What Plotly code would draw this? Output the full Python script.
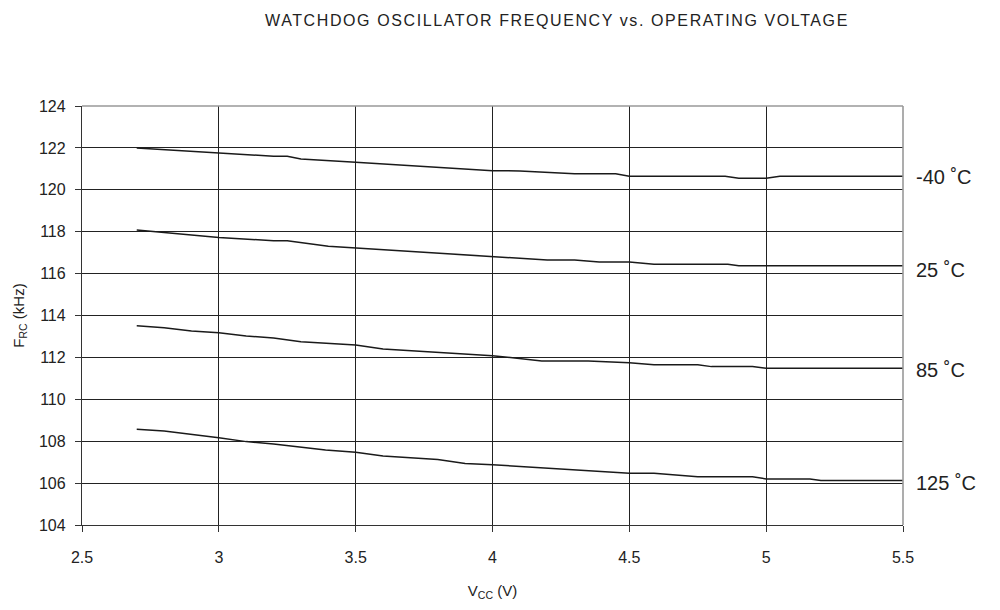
import plotly.graph_objects as go

# Data
x_m40 = [2.7, 3.0, 3.2, 3.25, 3.3, 3.5, 4.0, 4.1, 4.3, 4.45, 4.5, 4.85, 4.9, 5.0, 5.05, 5.5]
y_m40 = [122.0, 121.75, 121.6, 121.6, 121.47, 121.32, 120.91, 120.9, 120.77, 120.77, 120.65, 120.65, 120.55, 120.55, 120.65, 120.65]

x_25 = [2.7, 3.0, 3.2, 3.25, 3.4, 3.5, 4.0, 4.2, 4.3, 4.39, 4.5, 4.59, 4.86, 4.9, 5.5]
y_25 = [118.08, 117.72, 117.57, 117.57, 117.3, 117.22, 116.8, 116.65, 116.65, 116.55, 116.55, 116.45, 116.45, 116.37, 116.37]

x_85 = [2.7, 2.8, 2.9, 3.0, 3.1, 3.2, 3.3, 3.5, 3.6, 3.8, 4.0, 4.18, 4.35, 4.5, 4.59, 4.75, 4.8, 4.95, 5.0, 5.5]
y_85 = [113.51, 113.42, 113.26, 113.18, 113.02, 112.93, 112.75, 112.59, 112.4, 112.24, 112.08, 111.83, 111.83, 111.75, 111.65, 111.65, 111.56, 111.56, 111.48, 111.48]

x_125 = [2.7, 2.8, 3.0, 3.1, 3.2, 3.39, 3.5, 3.6, 3.8, 3.9, 4.0, 4.5, 4.59, 4.75, 4.95, 5.0, 5.16, 5.2, 5.5]
y_125 = [108.57, 108.49, 108.17, 107.98, 107.87, 107.58, 107.47, 107.29, 107.13, 106.94, 106.88, 106.47, 106.47, 106.3, 106.3, 106.2, 106.2, 106.12, 106.12]

labels = ["-40 ˚C", "25 ˚C", "85 ˚C", "125 ˚C"]
label_y = [120.6, 116.17, 111.4, 106.0]

x_ticks = [2.5, 3, 3.5, 4, 4.5, 5, 5.5]
x_tick_text = ["2.5", "3", "3.5", "4", "4.5", "5", "5.5"]
y_ticks = list(range(104, 125, 2))

series = [(x_m40, y_m40), (x_25, y_25), (x_85, y_85), (x_125, y_125)]

FONT = "Liberation Sans, Arial, sans-serif"
INK = "#222"

fig = go.Figure()
for (xs, ys), name in zip(series, labels):
    fig.add_trace(go.Scatter(x=xs, y=ys, mode="lines", name=name,
                             line=dict(color="#1a1a1a", width=1.5), showlegend=False))

for txt, yv in zip(labels, label_y):
    fig.add_annotation(x=1, xref="paper", y=yv, yref="y", text=txt, showarrow=False,
                       xanchor="left", yanchor="middle", xshift=11,
                       font=dict(family=FONT, size=20, color=INK))

fig.update_layout(
    width=1000, height=610,
    margin=dict(l=74, r=105, t=98, b=93),
    paper_bgcolor="white", plot_bgcolor="white",
    title=dict(text='<span style="letter-spacing:1.6px">WATCHDOG OSCILLATOR FREQUENCY vs. OPERATING VOLTAGE</span>',
               x=0.549, xanchor="center", y=0.98, yanchor="middle",
               font=dict(family=FONT, size=16, color=INK)),
    font=dict(family=FONT, size=15, color=INK),
)

fig.update_xaxes(range=[2.5, 5.5], tickvals=x_ticks, ticktext=x_tick_text,
                 showgrid=True, gridcolor="#222", gridwidth=1.3,
                 showline=True, linecolor="#333", linewidth=1.3,
                 ticks="outside", ticklen=6, tickcolor="#333",
                 ticklabelstandoff=12, automargin=False,
                 zeroline=False, tickfont=dict(size=16),
                 title=dict(text="V<sub>CC</sub> (V)", standoff=20,
                            font=dict(size=15)))
fig.update_yaxes(range=[104, 124], tickvals=y_ticks,
                 showgrid=True, gridcolor="#222", gridwidth=1.3,
                 showline=True, linecolor="#333", linewidth=1.3,
                 ticks="outside", ticklen=6, tickcolor="#333",
                 ticklabelstandoff=6, automargin=False,
                 zeroline=False, tickfont=dict(size=16),
                 title=dict(text="F<sub>RC</sub> (kHz)", standoff=10,
                            font=dict(size=15)))

# grey right and top borders
fig.add_shape(type="line", xref="paper", yref="paper", x0=1, x1=1, y0=0, y1=1,
              line=dict(color="#999", width=1.6), layer="above")
fig.add_shape(type="line", xref="paper", yref="paper", x0=0, x1=1, y0=1, y1=1,
              line=dict(color="#999", width=1.6), layer="above")

fig.write_html("out.html")
